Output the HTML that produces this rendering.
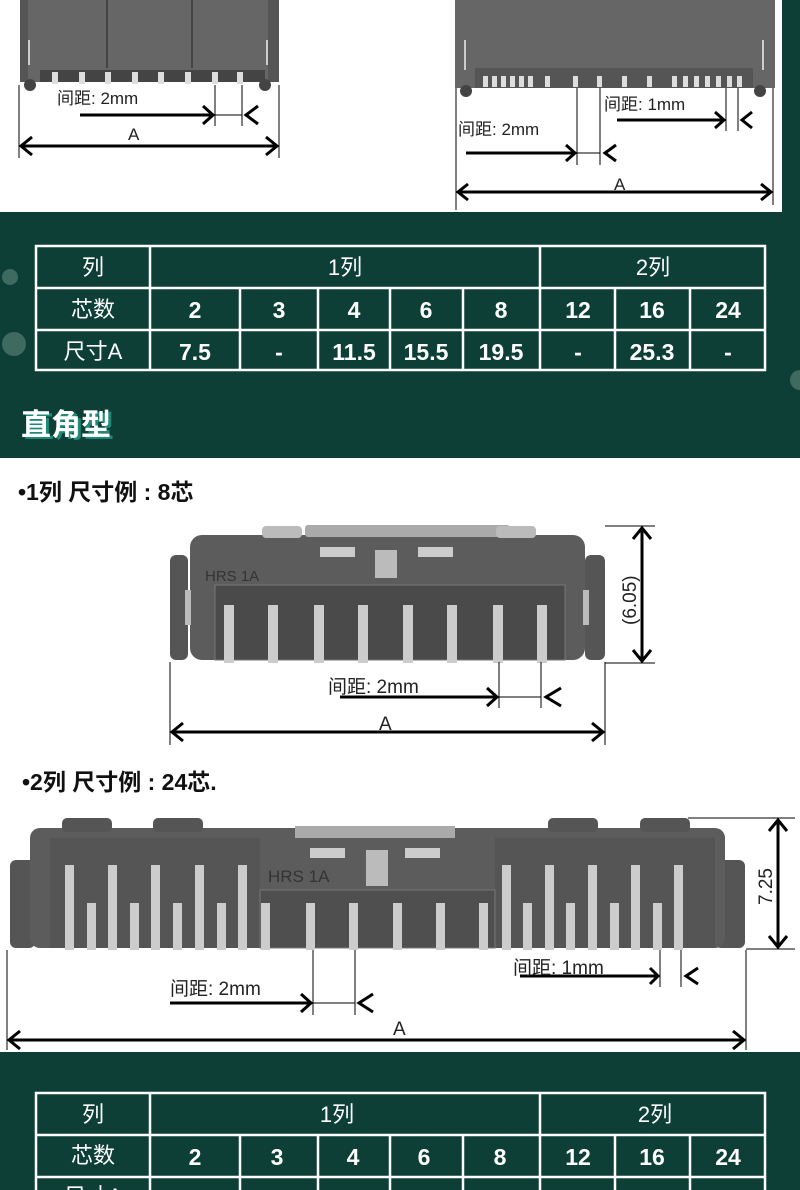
<!DOCTYPE html>
<html><head><meta charset="utf-8"><style>
html,body{margin:0;padding:0;width:800px;height:1190px;overflow:hidden;background:#fff}
svg{display:block}
.t{font-family:"Liberation Sans","Noto Sans CJK SC",sans-serif}
</style></head><body>
<svg width="800" height="1190" viewBox="0 0 800 1190" xmlns="http://www.w3.org/2000/svg" class="t">
<defs>
<g id="pinS"><rect x="-3" y="0" width="6" height="12" fill="#ddd"/></g>
</defs>
<!-- top white area -->
<rect x="0" y="0" width="800" height="212" fill="#fff"/>
<rect x="782" y="0" width="18" height="212" fill="#0d3f37"/>
<!-- left top connector -->
<rect x="20" y="0" width="8" height="82" fill="#555"/>
<rect x="265" y="0" width="14" height="82" fill="#555"/>
<rect x="28" y="0" width="240" height="82" fill="#666"/>
<rect x="40" y="70" width="225" height="12" fill="#444"/>
<line x1="107" y1="0" x2="107" y2="68" stroke="#444" stroke-width="2"/>
<line x1="192" y1="0" x2="192" y2="68" stroke="#444" stroke-width="2"/>
<rect x="28" y="40" width="2" height="25" fill="#ccc"/>
<rect x="266" y="40" width="2" height="25" fill="#ccc"/>
<circle cx="30" cy="85" r="6" fill="#444"/><circle cx="265" cy="85" r="6" fill="#444"/>
<g fill="#ddd"><rect x="52" y="72" width="6" height="12"/><rect x="79" y="72" width="6" height="12"/><rect x="105" y="72" width="6" height="12"/><rect x="132" y="72" width="6" height="12"/><rect x="158" y="72" width="6" height="12"/><rect x="185" y="72" width="6" height="12"/><rect x="212" y="72" width="6" height="12"/><rect x="237" y="72" width="6" height="12"/></g>
<g stroke="#000" fill="none">
<line x1="19" y1="85" x2="19" y2="158" stroke-width="1"/><line x1="279" y1="85" x2="279" y2="158" stroke-width="1"/>
<line x1="215" y1="85" x2="215" y2="126" stroke-width="1"/><line x1="242" y1="85" x2="242" y2="126" stroke-width="1"/>
<line x1="80" y1="115" x2="213" y2="115" stroke-width="3"/><polyline points="203,106 213,115 203,124" stroke-width="3"/>
<line x1="215" y1="115" x2="242" y2="115" stroke-width="1"/><polyline points="258,106 246,115 258,124" stroke-width="3"/>
<line x1="21" y1="146" x2="277" y2="146" stroke-width="3"/><polyline points="32,137 21,146 32,155" stroke-width="3"/><polyline points="266,137 277,146 266,155" stroke-width="3"/>
</g>
<text x="57" y="104" font-size="17" fill="#222">间距: 2mm</text>
<text x="128" y="140" font-size="17" fill="#222">A</text>
<!-- right top connector -->
<rect x="455" y="0" width="320" height="88" fill="#666"/>
<rect x="475" y="68" width="278" height="20" fill="#555"/>
<rect x="464" y="40" width="2" height="30" fill="#ccc"/><rect x="762" y="40" width="2" height="30" fill="#ccc"/>
<circle cx="466" cy="91" r="6" fill="#444"/><circle cx="760" cy="91" r="6" fill="#444"/>
<g fill="#ddd"><rect x="483" y="76" width="5" height="11"/><rect x="492" y="76" width="5" height="11"/><rect x="501" y="76" width="5" height="11"/><rect x="510" y="76" width="5" height="11"/><rect x="519" y="76" width="5" height="11"/><rect x="528" y="76" width="5" height="11"/><rect x="545" y="76" width="5" height="11"/><rect x="573" y="76" width="5" height="11"/><rect x="597" y="76" width="5" height="11"/><rect x="622" y="76" width="5" height="11"/><rect x="647" y="76" width="5" height="11"/><rect x="672" y="76" width="5" height="11"/><rect x="683" y="76" width="5" height="11"/><rect x="694" y="76" width="5" height="11"/><rect x="705" y="76" width="5" height="11"/><rect x="716" y="76" width="5" height="11"/><rect x="727" y="76" width="5" height="11"/><rect x="737" y="76" width="5" height="11"/></g>
<g stroke="#000" fill="none">
<line x1="456" y1="88" x2="456" y2="210" stroke-width="1"/><line x1="773" y1="88" x2="773" y2="205" stroke-width="1"/>
<line x1="577" y1="88" x2="577" y2="165" stroke-width="1"/><line x1="600" y1="88" x2="600" y2="165" stroke-width="1"/>
<line x1="726" y1="88" x2="726" y2="131" stroke-width="1"/><line x1="738" y1="88" x2="738" y2="131" stroke-width="1"/>
<line x1="617" y1="120" x2="724" y2="120" stroke-width="3"/><polyline points="715,112 724,120 715,128" stroke-width="3"/>
<polyline points="752,112 742,120 752,128" stroke-width="3"/>
<line x1="466" y1="153" x2="575" y2="153" stroke-width="3"/><polyline points="566,145 575,153 566,161" stroke-width="3"/>
<line x1="577" y1="153" x2="600" y2="153" stroke-width="1"/><polyline points="616,145 605,153 616,161" stroke-width="3"/>
<line x1="458" y1="192" x2="771" y2="192" stroke-width="3"/><polyline points="468,184 458,192 468,200" stroke-width="3"/><polyline points="761,184 771,192 761,200" stroke-width="3"/>
</g>
<text x="604" y="110" font-size="17" fill="#222">间距: 1mm</text>
<text x="458" y="135" font-size="17" fill="#222">间距: 2mm</text>
<text x="614" y="190" font-size="17" fill="#222">A</text>

<!-- green band 1 -->
<rect x="0" y="212" width="800" height="246" fill="#0d3f37"/>
<circle cx="10" cy="277" r="8" fill="#3f6a60"/><circle cx="14" cy="344" r="12" fill="#3f6a60"/>
<circle cx="800" cy="380" r="10" fill="#3f6a60"/>
<g stroke="#fff" stroke-width="2.5" fill="none">
<rect x="36" y="246" width="729" height="124"/>
<line x1="36" y1="288" x2="765" y2="288"/><line x1="36" y1="330" x2="765" y2="330"/>
<line x1="150" y1="246" x2="150" y2="370"/><line x1="540" y1="246" x2="540" y2="370"/>
<line x1="240" y1="288" x2="240" y2="370"/><line x1="318" y1="288" x2="318" y2="370"/><line x1="390" y1="288" x2="390" y2="370"/><line x1="463" y1="288" x2="463" y2="370"/><line x1="615" y1="288" x2="615" y2="370"/><line x1="690" y1="288" x2="690" y2="370"/>
</g>
<g fill="#fff" text-anchor="middle" font-size="22">
<text x="93" y="275">列</text><text x="345" y="275">1列</text><text x="653" y="275">2列</text>
<text x="93" y="317">芯数</text><text x="93" y="359">尺寸A</text>
</g>
<g fill="#fff" text-anchor="middle" font-size="23" font-weight="bold">
<text x="195" y="318">2</text><text x="279" y="318">3</text><text x="354" y="318">4</text><text x="426" y="318">6</text><text x="501" y="318">8</text><text x="578" y="318">12</text><text x="652" y="318">16</text><text x="728" y="318">24</text>
<text x="195" y="360">7.5</text><text x="279" y="360">-</text><text x="354" y="360">11.5</text><text x="426" y="360">15.5</text><text x="501" y="360">19.5</text><text x="578" y="360">-</text><text x="652" y="360">25.3</text><text x="728" y="360">-</text>
</g>
<text x="24" y="437" font-size="30" font-weight="bold" fill="#1f8a78">直角型</text>
<text x="21" y="435" font-size="30" font-weight="bold" fill="#fff">直角型</text>

<!-- 1 row drawing -->
<text x="18" y="500" font-size="23" font-weight="bold" fill="#111">•1列 尺寸例 : 8芯</text>
<rect x="170" y="555" width="18" height="105" rx="6" fill="#555"/>
<rect x="585" y="555" width="20" height="105" rx="6" fill="#555"/>
<rect x="190" y="535" width="395" height="125" rx="12" fill="#5c5c5c"/>
<rect x="262" y="526" width="40" height="12" rx="4" fill="#bbb"/><rect x="305" y="525" width="205" height="12" rx="3" fill="#aaa"/><rect x="496" y="526" width="40" height="12" rx="4" fill="#bbb"/>
<rect x="215" y="585" width="350" height="75" fill="#4a4a4a" stroke="#777"/>
<rect x="320" y="547" width="35" height="10" fill="#ccc"/><rect x="418" y="547" width="35" height="10" fill="#ccc"/>
<rect x="375" y="550" width="22" height="28" fill="#bbb"/>
<text x="205" y="581" font-size="15" fill="#333">HRS 1A</text>
<rect x="185" y="590" width="6" height="35" fill="#bbb"/><rect x="583" y="590" width="6" height="35" fill="#bbb"/>
<g fill="#ccc"><rect x="224" y="605" width="10" height="58"/><rect x="268" y="605" width="10" height="58"/><rect x="314" y="605" width="10" height="58"/><rect x="358" y="605" width="10" height="58"/><rect x="403" y="605" width="10" height="58"/><rect x="447" y="605" width="10" height="58"/><rect x="493" y="605" width="10" height="58"/><rect x="537" y="605" width="10" height="58"/></g>
<g stroke="#000" fill="none">
<line x1="170" y1="662" x2="170" y2="745" stroke-width="1"/><line x1="605" y1="662" x2="605" y2="745" stroke-width="1"/>
<line x1="499" y1="662" x2="499" y2="708" stroke-width="1"/><line x1="541" y1="662" x2="541" y2="708" stroke-width="1"/>
<line x1="340" y1="697" x2="497" y2="697" stroke-width="3"/><polyline points="487,688 497,697 487,706" stroke-width="3"/>
<line x1="499" y1="697" x2="541" y2="697" stroke-width="1"/><polyline points="561,688 546,697 561,706" stroke-width="3"/>
<line x1="172" y1="732" x2="603" y2="732" stroke-width="3"/><polyline points="183,723 172,732 183,741" stroke-width="3"/><polyline points="592,723 603,732 592,741" stroke-width="3"/>
<line x1="605" y1="526" x2="655" y2="526" stroke-width="1"/><line x1="605" y1="663" x2="655" y2="663" stroke-width="1"/>
<line x1="642" y1="528" x2="642" y2="661" stroke-width="3"/><polyline points="633,539 642,528 651,539" stroke-width="3"/><polyline points="633,650 642,661 651,650" stroke-width="3"/>
</g>
<text x="328" y="693" font-size="19" fill="#222">间距: 2mm</text>
<text x="379" y="730" font-size="19" fill="#222">A</text>
<text transform="translate(636,625) rotate(-90)" font-size="19" fill="#222">(6.05)</text>

<!-- 2 row drawing -->
<text x="22" y="790" font-size="23" font-weight="bold" fill="#111">•2列 尺寸例 : 24芯.</text>
<rect x="10" y="860" width="25" height="88" rx="6" fill="#555"/><rect x="715" y="860" width="30" height="88" rx="6" fill="#555"/>
<rect x="30" y="828" width="695" height="120" rx="10" fill="#5c5c5c"/>
<rect x="62" y="818" width="50" height="14" rx="5" fill="#555"/><rect x="153" y="818" width="50" height="14" rx="5" fill="#555"/><rect x="548" y="818" width="50" height="14" rx="5" fill="#555"/><rect x="640" y="818" width="50" height="14" rx="5" fill="#555"/>
<rect x="295" y="826" width="160" height="12" fill="#aaa"/>
<rect x="50" y="838" width="210" height="110" fill="#555"/><rect x="495" y="838" width="220" height="110" fill="#555"/>
<rect x="260" y="890" width="235" height="58" fill="#4f4f4f" stroke="#777"/>
<rect x="310" y="848" width="35" height="10" fill="#ccc"/><rect x="405" y="848" width="35" height="10" fill="#ccc"/>
<rect x="366" y="850" width="22" height="36" fill="#bbb"/>
<text x="268" y="882" font-size="17" fill="#333">HRS 1A</text>
<g fill="#ccc">
<rect x="65" y="865" width="9" height="85"/><rect x="108" y="865" width="9" height="85"/><rect x="151" y="865" width="9" height="85"/><rect x="195" y="865" width="9" height="85"/><rect x="238" y="865" width="9" height="85"/>
<rect x="502" y="865" width="9" height="85"/><rect x="545" y="865" width="9" height="85"/><rect x="588" y="865" width="9" height="85"/><rect x="631" y="865" width="9" height="85"/><rect x="674" y="865" width="9" height="85"/>
<rect x="87" y="903" width="9" height="47"/><rect x="130" y="903" width="9" height="47"/><rect x="173" y="903" width="9" height="47"/><rect x="217" y="903" width="9" height="47"/><rect x="261" y="903" width="9" height="47"/><rect x="306" y="903" width="9" height="47"/><rect x="349" y="903" width="9" height="47"/><rect x="393" y="903" width="9" height="47"/><rect x="436" y="903" width="9" height="47"/><rect x="479" y="903" width="9" height="47"/><rect x="523" y="903" width="9" height="47"/><rect x="566" y="903" width="9" height="47"/><rect x="610" y="903" width="9" height="47"/><rect x="653" y="903" width="9" height="47"/>
</g>
<g stroke="#000" fill="none">
<line x1="7" y1="950" x2="7" y2="1050" stroke-width="1"/><line x1="746" y1="950" x2="746" y2="1050" stroke-width="1"/>
<line x1="313" y1="950" x2="313" y2="1015" stroke-width="1"/><line x1="355" y1="950" x2="355" y2="1015" stroke-width="1"/>
<line x1="660" y1="950" x2="660" y2="987" stroke-width="1"/><line x1="681" y1="950" x2="681" y2="987" stroke-width="1"/>
<line x1="520" y1="976" x2="658" y2="976" stroke-width="3"/><polyline points="650,968 658,976 650,984" stroke-width="3"/>
<polyline points="698,968 686,976 698,984" stroke-width="3"/>
<line x1="170" y1="1003" x2="311" y2="1003" stroke-width="3"/><polyline points="301,994 311,1003 301,1012" stroke-width="3"/>
<line x1="313" y1="1003" x2="355" y2="1003" stroke-width="1"/><polyline points="373,994 359,1003 373,1012" stroke-width="3"/>
<line x1="9" y1="1040" x2="744" y2="1040" stroke-width="3"/><polyline points="20,1031 9,1040 20,1049" stroke-width="3"/><polyline points="733,1031 744,1040 733,1049" stroke-width="3"/>
<line x1="688" y1="818" x2="795" y2="818" stroke-width="1"/><line x1="746" y1="949" x2="795" y2="949" stroke-width="1"/>
<line x1="778" y1="820" x2="778" y2="947" stroke-width="3"/><polyline points="769,831 778,820 787,831" stroke-width="3"/><polyline points="769,936 778,947 787,936" stroke-width="3"/>
</g>
<text x="513" y="974" font-size="19" fill="#222">间距: 1mm</text>
<text x="170" y="995" font-size="19" fill="#222">间距: 2mm</text>
<text x="393" y="1035" font-size="19" fill="#222">A</text>
<text transform="translate(772,905) rotate(-90)" font-size="19" fill="#222">7.25</text>

<!-- green band 2 -->
<rect x="0" y="1052" width="800" height="138" fill="#0d3f37"/>
<g stroke="#fff" stroke-width="2.5" fill="none">
<rect x="36" y="1093" width="729" height="120"/>
<line x1="36" y1="1135" x2="765" y2="1135"/><line x1="36" y1="1177" x2="765" y2="1177"/>
<line x1="150" y1="1093" x2="150" y2="1190"/><line x1="540" y1="1093" x2="540" y2="1190"/>
<line x1="240" y1="1135" x2="240" y2="1190"/><line x1="318" y1="1135" x2="318" y2="1190"/><line x1="390" y1="1135" x2="390" y2="1190"/><line x1="463" y1="1135" x2="463" y2="1190"/><line x1="615" y1="1135" x2="615" y2="1190"/><line x1="690" y1="1135" x2="690" y2="1190"/>
</g>
<g fill="#fff" text-anchor="middle" font-size="22">
<text x="93" y="1122">列</text><text x="337" y="1122">1列</text><text x="655" y="1122">2列</text>
<text x="93" y="1163">芯数</text><text x="93" y="1204">尺寸A</text>
</g>
<g fill="#fff" text-anchor="middle" font-size="23" font-weight="bold">
<text x="195" y="1165">2</text><text x="277" y="1165">3</text><text x="353" y="1165">4</text><text x="424" y="1165">6</text><text x="500" y="1165">8</text><text x="578" y="1165">12</text><text x="652" y="1165">16</text><text x="728" y="1165">24</text>
<text x="195" y="1206">7.0</text><text x="277" y="1206">9.0</text><text x="353" y="1206">11.0</text><text x="424" y="1206">15.0</text><text x="500" y="1206">19.0</text><text x="578" y="1206">21.0</text><text x="652" y="1206">25.0</text><text x="728" y="1206">29.0</text>
</g>
</svg>
</body></html>
